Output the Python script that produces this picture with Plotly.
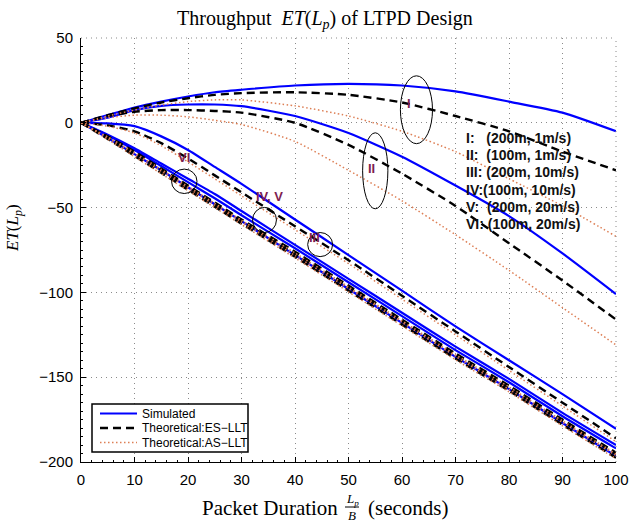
import plotly.graph_objects as go

# ---------------- data ----------------
x_vals = [0, 5, 10, 15, 20, 25, 30, 40, 50, 60, 70, 80, 90, 100]

sim_I   = [0, 4.5, 9, 12.5, 15.5, 18, 19.5, 22, 23, 22, 18.5, 12.5, 6, -5]
sim_II  = [0, 3, 7.5, 10, 10.8, 10.8, 9.8, 4, -6, -20, -37, -55, -77, -101]
sim_III = [0, -0.3, -2, -8, -16, -26, -36, -57, -78, -99, -120, -140, -160, -180.5]
sim_IV  = [0, -7, -15, -24, -33, -42, -52, -72, -92, -112, -132, -151, -171, -190]
sim_V   = [0, -7.5, -16, -25.5, -35, -44.5, -54.5, -74, -94, -114, -134, -153, -173, -192]
sim_VI  = [0, -9, -18.5, -28, -38, -48, -58, -78, -98, -118, -138, -157, -177, -196.5]

es_I   = [0, 4.5, 8.5, 12, 14.5, 16.5, 17.5, 18, 16.5, 12, 4, -5, -17, -28]
es_II  = [0, 4, 6.5, 7.5, 7.5, 7, 6, 0, -13, -30, -49, -71, -93, -116]
es_III = [0, -1.5, -5, -12, -21, -31, -41, -61, -81, -102, -123, -144, -165, -186]
es_IV  = [0, -8, -17, -27, -37, -47, -57, -76, -96, -116, -136, -155, -175, -194.5]
es_V   = [0, -8.5, -18, -28, -38, -48, -58, -77.5, -97, -117, -137, -156.5, -176, -195.5]
es_VI  = [0, -9.5, -19.5, -29.5, -39.5, -49.5, -59.5, -79, -99, -119, -139, -158, -178, -197.5]

as_I   = [0, 4, 7.5, 10.5, 12.5, 13.5, 13.5, 10, 4, -5, -17, -33, -49, -67]
as_II  = [0, 3, 4.5, 4.5, 3.5, 1.5, -1, -11, -28, -46, -66, -87, -109, -131]
as_III = [0, -2, -6, -13.5, -23, -33, -43, -63, -83, -104, -125, -146, -167, -188]
as_IV  = [0, -8.3, -17.5, -27.5, -37.5, -47.5, -57.5, -76.7, -96.7, -116.7, -136.7, -155.7, -175.7, -195.2]
as_V   = [0, -8.8, -18.5, -28.5, -38.5, -48.5, -58.5, -78.2, -97.7, -117.7, -137.7, -157.2, -176.7, -196.2]
as_VI  = [0, -9.8, -20, -30, -40, -50, -60, -79.7, -99.7, -119.7, -139.7, -158.7, -178.7, -198]

scenario_labels = ["I:\u00a0\u00a0\u00a0(200m, 1m/s)",
                   "II:\u00a0\u00a0(100m, 1m/s)",
                   "III: (200m, 10m/s)",
                   "IV:(100m, 10m/s)",
                   "V:\u00a0\u00a0(200m, 20m/s)",
                   "VI:\u00a0(100m, 20m/s)"]

legend_names = ["Simulated", "Theoretical:ES\u2212LLT", "Theoretical:AS\u2212LLT"]
x_ticks = [0, 10, 20, 30, 40, 50, 60, 70, 80, 90, 100]
y_ticks = [50, 0, -50, -100, -150, -200]

# ---------------- figure ----------------
W, H = 629, 522
L, R, T, B = 81, 13, 38, 60
PW, PH = W - L - R, H - T - B

def px(xp):
    return (xp - L) / PW

def py(yp):
    return (H - B - yp) / PH

fig = go.Figure()

styles = [
    dict(color="#0000FF", width=2.2, dash="solid"),
    dict(color="#000000", width=2.4, dash="8px,5px"),
    dict(color="#DD7F55", width=1.5, dash="1.5px,2.5px"),
]
groups = [
    [sim_I, sim_II, sim_III, sim_IV, sim_V, sim_VI],
    [es_I, es_II, es_III, es_IV, es_V, es_VI],
    [as_I, as_II, as_III, as_IV, as_V, as_VI],
]

for series, line, name in zip(groups, styles, legend_names):
    for ys in series:
        fig.add_trace(go.Scatter(
            x=x_vals, y=ys, mode="lines", name=name,
            line=dict(shape="spline", smoothing=0.6, **line),
            legendgroup=name, showlegend=False))

# grid lines on the far edges (top y=50 and right x=100)
grid_line = dict(color="#8a8a8a", width=1, dash="1px,4px")
fig.add_shape(type="line", xref="paper", yref="paper", x0=0, x1=1, y0=1, y1=1, line=grid_line)
fig.add_shape(type="line", xref="paper", yref="paper", x0=1, x1=1, y0=0, y1=1, line=grid_line)

# ellipses and labels
maroon = "#7E1E50"
ellipses = [
    (62.7, 7.7, 3.0, 20.0, "I", 61.3, 11.2),
    (55.0, -28.3, 2.36, 22.4, "II", 54.3, -27.0),
    (44.7, -71.8, 2.33, 7.1, "III", 43.6, -67.6),
    (34.3, -57.3, 2.23, 7.4, "IV, V", 35.3, -43.6),
    (19.3, -34.5, 2.38, 7.2, "VI", 19.2, -20.5),
]
for cx, cy, rx, ry, lab, lx, ly in ellipses:
    fig.add_shape(type="circle", xref="x", yref="y",
                  x0=cx - rx, x1=cx + rx, y0=cy - ry, y1=cy + ry,
                  line=dict(color="black", width=1))
    fig.add_annotation(x=lx, y=ly, xref="x", yref="y", text="<b>%s</b>" % lab,
                       showarrow=False, font=dict(family="Liberation Sans", size=13, color=maroon))

# scenario text block
for i, txt in enumerate(scenario_labels):
    fig.add_annotation(x=px(464), y=py(138 + i * 17.2), xref="paper", yref="paper",
                       text="<b>%s</b>" % txt, showarrow=False, xanchor="left", yanchor="middle",
                       font=dict(family="Liberation Sans", size=14, color="#111111"))

# manual legend (compact, like the reference)
fig.add_shape(type="rect", xref="paper", yref="paper", x0=px(92), x1=px(248),
              y0=py(452), y1=py(404), fillcolor="white",
              line=dict(color="black", width=1.5), layer="above")
for i, (name, st) in enumerate(zip(legend_names, styles)):
    yy = 413.5 + i * 14.5
    fig.add_shape(type="line", xref="paper", yref="paper", x0=px(100), x1=px(137),
                  y0=py(yy), y1=py(yy), layer="above",
                  line=dict(color=st["color"], width=st["width"], dash=st["dash"]))
    fig.add_annotation(x=px(140), y=py(yy), xref="paper", yref="paper", text=name,
                       showarrow=False, xanchor="left", yanchor="middle",
                       font=dict(family="Liberation Sans", size=12, color="black"))

serif = "Liberation Serif"
# title
fig.add_annotation(x=px(325), y=py(20), xref="paper", yref="paper",
                   text="Throughput  <i>ET</i>(<i>L<sub>p</sub></i>) of LTPD Design",
                   showarrow=False, xanchor="center", yanchor="middle",
                   font=dict(family=serif, size=20, color="black"))
# x title with fraction
fig.add_annotation(x=px(340), y=py(508), xref="paper", yref="paper",
                   text="Packet Duration", showarrow=False, xanchor="right", yanchor="middle",
                   font=dict(family=serif, size=21, color="black"))
fig.add_annotation(x=px(352), y=py(499), xref="paper", yref="paper",
                   text="<i>L<sub>p</sub></i>", showarrow=False, xanchor="center", yanchor="middle",
                   font=dict(family=serif, size=13, color="black"))
fig.add_annotation(x=px(352), y=py(515), xref="paper", yref="paper",
                   text="<i>B</i>", showarrow=False, xanchor="center", yanchor="middle",
                   font=dict(family=serif, size=13, color="black"))
fig.add_shape(type="line", xref="paper", yref="paper", x0=px(345), x1=px(359),
              y0=py(507), y1=py(507), line=dict(color="black", width=1))
fig.add_annotation(x=px(366), y=py(508), xref="paper", yref="paper",
                   text="(seconds)", showarrow=False, xanchor="left", yanchor="middle",
                   font=dict(family=serif, size=21, color="black"))
# y title
fig.add_annotation(x=px(14), y=py(228), xref="paper", yref="paper",
                   text="<i>ET</i>(<i>L<sub>p</sub></i>)", textangle=-90,
                   showarrow=False, xanchor="center", yanchor="middle",
                   font=dict(family=serif, size=17, color="black"))

axis_common = dict(showline=True, linecolor="black", linewidth=1,
                   ticks="inside", ticklen=5, tickcolor="black",
                   showgrid=True, gridcolor="#8a8a8a", griddash="1px,4px", gridwidth=1,
                   zeroline=False, mirror=False, ticklabeloverflow="allow", automargin=False,
                   tickfont=dict(family="Liberation Sans", size=15, color="black"))

fig.update_xaxes(range=[0, 100], tickvals=x_ticks, ticklabelstandoff=4,
                 minor=dict(ticks="inside", ticklen=2, dtick=2, tickcolor="black", showgrid=False),
                 **axis_common)
fig.update_yaxes(range=[-200, 50], tickvals=y_ticks, ticklabelstandoff=4,
                 minor=dict(ticks="inside", ticklen=2, dtick=5, tickcolor="black", showgrid=False),
                 **axis_common)

fig.update_layout(
    width=W, height=H,
    margin=dict(l=L, r=R, t=T, b=B, autoexpand=False),
    paper_bgcolor="white", plot_bgcolor="white",
    showlegend=False,
)

fig.write_html("out.html")
